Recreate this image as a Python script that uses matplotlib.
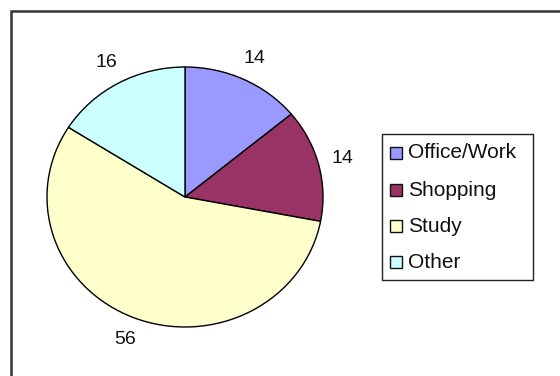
import matplotlib.pyplot as plt
from matplotlib.patches import Rectangle

plt.rcParams['font.family'] = ['Liberation Sans', 'DejaVu Sans']

categories = ['Office/Work', 'Shopping', 'Study', 'Other']
values = [14, 14, 56, 16]
colors = ['#9999FF', '#993366', '#FFFFCC', '#CCFFFF']

W, H = 560, 376
fig = plt.figure(figsize=(W / 100, H / 100), dpi=100)

# background axes in pixel units (y measured from the bottom)
bg = fig.add_axes([0, 0, 1, 1])
bg.set_xlim(0, W)
bg.set_ylim(0, H)
bg.axis('off')

# chart area border (runs off the right and bottom edges)
bg.add_patch(Rectangle((11, -20), 600, H - 11 + 20, fill=False,
                       edgecolor='#333333', linewidth=1.8))

# pie sits in its own box; the box is a bit wider than tall so the pie is
# slightly oval
pie_l, pie_r, pie_t, pie_b = 47, 323, 67, 327
ax = fig.add_axes([pie_l / W, (H - pie_b) / H,
                   (pie_r - pie_l) / W, (pie_b - pie_t) / H])
wedges, texts = ax.pie(values, colors=colors, labels=[str(v) for v in values],
                       startangle=90, counterclock=False, radius=1,
                       labeldistance=1.18,
                       wedgeprops=dict(edgecolor='black', linewidth=1.0,
                                       clip_on=False),
                       textprops=dict(fontsize=14, color='#111111'))
for t in texts:
    t.set_horizontalalignment('center')
    t.set_verticalalignment('center')
ax.set_aspect('auto')
ax.set_xlim(-1, 1)
ax.set_ylim(-1, 1)
ax.axis('off')

# legend box
bg.add_patch(Rectangle((382, H - 280), 151, 146, fill=False,
                       edgecolor='#222222', linewidth=1.0))
row_y = [153, 190, 226, 262]
for name, c, y in zip(categories, colors, row_y):
    bg.add_patch(Rectangle((390, H - y - 6), 12, 12, facecolor=c,
                           edgecolor='#111111', linewidth=1.0))
    bg.text(408, H - y, name, fontsize=15, va='center', ha='left',
            color='#111111')

fig.savefig('out.png', dpi=100)
